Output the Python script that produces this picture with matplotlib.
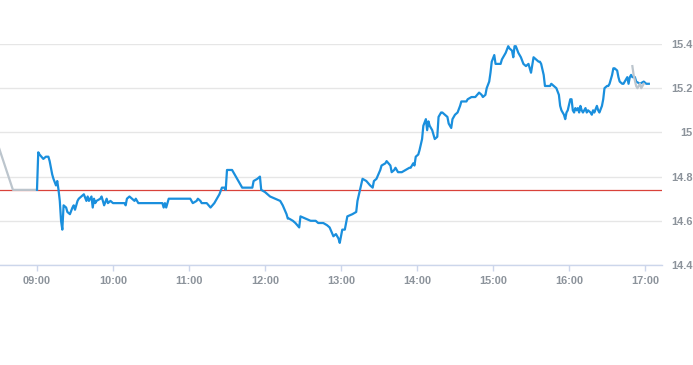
import numpy as np
import matplotlib.pyplot as plt

plt.rcParams['font.family'] = ['Liberation Sans', 'DejaVu Sans']

# intraday price (blue)
times = ["09:00", "09:01", "09:02", "09:05", "09:07", "09:09", "09:10", "09:12", "09:13", "09:15",
         "09:16", "09:17", "09:18", "09:19", "09:20", "09:21", "09:23", "09:24", "09:26", "09:28",
         "09:29", "09:30", "09:32", "09:33", "09:35", "09:37", "09:39", "09:40", "09:41", "09:43",
         "09:44", "09:45", "09:46", "09:47", "09:50", "09:51", "09:53", "09:55", "09:56", "09:58",
         "10:00", "10:04", "10:09", "10:10", "10:11", "10:13", "10:17", "10:18", "10:20", "10:29",
         "10:39", "10:40", "10:41", "10:42", "10:44", "10:47", "10:57", "11:01", "11:03", "11:06",
         "11:07", "11:09", "11:10", "11:14", "11:17", "11:20", "11:22", "11:24", "11:26", "11:28",
         "11:29", "11:30", "11:34", "11:36", "11:39", "11:42", "11:50", "11:51", "11:54", "11:56",
         "11:57", "12:00", "12:04", "12:08", "12:12", "12:14", "12:17", "12:18", "12:19", "12:22",
         "12:24", "12:27", "12:28", "12:32", "12:36", "12:40", "12:42", "12:46", "12:49", "12:51",
         "12:54", "12:56", "12:58", "12:59", "13:01", "13:03", "13:05", "13:09", "13:12", "13:13",
         "13:15", "13:17", "13:20", "13:23", "13:25", "13:26", "13:28", "13:31", "13:32", "13:35",
         "13:36", "13:39", "13:40", "13:42", "13:43", "13:45", "13:48", "13:51", "13:54", "13:55",
         "13:57", "13:58", "13:59", "14:01", "14:02", "14:04", "14:05", "14:07", "14:08", "14:09",
         "14:10", "14:12", "14:13", "14:14", "14:16", "14:17", "14:19", "14:20", "14:22", "14:24",
         "14:25", "14:27", "14:28", "14:29", "14:30", "14:32", "14:34", "14:35", "14:39", "14:40",
         "14:43", "14:46", "14:49", "14:51", "14:52", "14:54", "14:55", "14:57", "14:58", "14:59",
         "15:01", "15:02", "15:04", "15:06", "15:07", "15:09", "15:10", "15:12", "15:13", "15:15",
         "15:16", "15:17", "15:18", "15:20", "15:21", "15:22", "15:24", "15:26", "15:28", "15:29",
         "15:30", "15:32", "15:34", "15:36", "15:37", "15:38", "15:40", "15:41", "15:45", "15:46",
         "15:48", "15:50", "15:52", "15:53", "15:54", "15:56", "15:57", "15:58", "15:59", "16:01",
         "16:02", "16:03", "16:04", "16:05", "16:06", "16:07", "16:08", "16:09", "16:10", "16:11",
         "16:13", "16:14", "16:15", "16:17", "16:18", "16:19", "16:20", "16:22", "16:23", "16:24",
         "16:26", "16:27", "16:28", "16:30", "16:31", "16:32", "16:34", "16:35", "16:36", "16:38",
         "16:39", "16:40", "16:42", "16:43", "16:44", "16:46", "16:47", "16:48", "16:49", "16:50",
         "16:52", "16:53", "16:56", "16:59", "17:01", "17:03"]
prices = [14.74, 14.91, 14.90, 14.88, 14.89, 14.89, 14.87, 14.81, 14.79, 14.76,
          14.78, 14.74, 14.69, 14.60, 14.56, 14.67, 14.66, 14.64, 14.63, 14.66,
          14.67, 14.65, 14.69, 14.70, 14.71, 14.72, 14.69, 14.71, 14.69, 14.71,
          14.66, 14.70, 14.68, 14.69, 14.70, 14.71, 14.67, 14.70, 14.68, 14.69,
          14.68, 14.68, 14.68, 14.67, 14.70, 14.71, 14.69, 14.70, 14.68, 14.68,
          14.68, 14.66, 14.68, 14.66, 14.70, 14.70, 14.70, 14.70, 14.68, 14.69,
          14.70, 14.69, 14.68, 14.68, 14.66, 14.68, 14.70, 14.72, 14.75, 14.75,
          14.74, 14.83, 14.83, 14.81, 14.78, 14.75, 14.75, 14.78, 14.79, 14.80,
          14.74, 14.73, 14.71, 14.70, 14.69, 14.67, 14.63, 14.61, 14.61, 14.60,
          14.59, 14.57, 14.62, 14.61, 14.60, 14.60, 14.59, 14.59, 14.58, 14.57,
          14.53, 14.54, 14.52, 14.50, 14.56, 14.56, 14.62, 14.63, 14.64, 14.69,
          14.74, 14.79, 14.78, 14.76, 14.75, 14.78, 14.79, 14.83, 14.85, 14.86,
          14.87, 14.85, 14.82, 14.83, 14.84, 14.82, 14.82, 14.83, 14.84, 14.84,
          14.86, 14.85, 14.89, 14.90, 14.92, 14.97, 15.03, 15.06, 15.01, 15.05,
          15.03, 15.01, 14.99, 14.97, 14.98, 15.07, 15.09, 15.09, 15.08, 15.07,
          15.04, 15.02, 15.06, 15.07, 15.08, 15.09, 15.12, 15.14, 15.14, 15.15,
          15.16, 15.16, 15.18, 15.17, 15.16, 15.17, 15.20, 15.23, 15.27, 15.32,
          15.35, 15.31, 15.31, 15.31, 15.33, 15.35, 15.36, 15.39, 15.38, 15.37,
          15.34, 15.39, 15.39, 15.36, 15.35, 15.34, 15.31, 15.30, 15.31, 15.29,
          15.27, 15.34, 15.33, 15.32, 15.32, 15.31, 15.26, 15.21, 15.21, 15.22,
          15.21, 15.20, 15.17, 15.12, 15.10, 15.08, 15.06, 15.09, 15.10, 15.15,
          15.15, 15.10, 15.09, 15.11, 15.10, 15.11, 15.09, 15.12, 15.10, 15.09,
          15.11, 15.09, 15.10, 15.09, 15.08, 15.10, 15.09, 15.12, 15.10, 15.09,
          15.12, 15.15, 15.20, 15.21, 15.21, 15.22, 15.26, 15.29, 15.29, 15.28,
          15.25, 15.23, 15.22, 15.22, 15.23, 15.25, 15.22, 15.25, 15.26, 15.25,
          15.25, 15.23, 15.22, 15.23, 15.22, 15.22]

# pre-open and after-hours (gray)
pre_times = ["08:30", "08:41", "09:00"]
pre_prices = [14.93, 14.74, 14.74]
post_times = ["16:50", "16:51", "16:53", "16:54", "16:56", "16:57", "16:59"]
post_prices = [15.30, 15.26, 15.21, 15.20, 15.22, 15.20, 15.22]

prev_close = 14.74
hour_ticks = ["09:00", "10:00", "11:00", "12:00", "13:00", "14:00", "15:00", "16:00", "17:00"]
y_ticks = [14.4, 14.6, 14.8, 15.0, 15.2, 15.4]


def to_min(t):
    h, m = t.split(":")
    return int(h) * 60 + int(m)


x = np.array([to_min(t) for t in times])
xp = np.array([to_min(t) for t in pre_times])
xa = np.array([to_min(t) for t in post_times])
xt = np.array([to_min(t) for t in hour_ticks])

fig = plt.figure(figsize=(6.93, 3.65), dpi=100)
ax = fig.add_axes([0, 1 - 265 / 365, 662 / 693, 221 / 365])

ax.plot(xp, pre_prices, color="#bcc5cd", lw=1.6, zorder=3)
ax.plot(x, prices, color="#1a8fdd", lw=1.6, zorder=4)
ax.plot(xa, post_prices, color="#bcc5cd", lw=1.6, zorder=5)
ax.axhline(prev_close, color="#d9423a", lw=0.9, zorder=2)

ax.set_xlim(9 * 60 - 29.2, 17 * 60 + 13.4)
ax.set_ylim(14.4, 15.4)

ax.set_xticks(xt)
ax.set_xticklabels(hour_ticks)
ax.set_yticks(y_ticks)
ax.set_yticklabels(["%g" % v for v in y_ticks])
ax.yaxis.tick_right()
ax.grid(axis="y", color="#e6e6e6", lw=1, zorder=0)

for s in ["top", "left", "right"]:
    ax.spines[s].set_visible(False)
ax.spines["bottom"].set_color("#ccd6eb")
ax.spines["bottom"].set_linewidth(1)

ax.tick_params(axis="x", length=4, width=1, color="#ccd6eb", pad=4,
               labelsize=7.9, labelcolor="#8c939b")
ax.tick_params(axis="y", length=0, pad=22, labelsize=7.9, labelcolor="#8c939b")
for lab in ax.get_xticklabels():
    lab.set_fontweight("bold")
for lab in ax.get_yticklabels():
    lab.set_fontweight("bold")
    lab.set_horizontalalignment("right")

fig.savefig("out.png", dpi=100)
